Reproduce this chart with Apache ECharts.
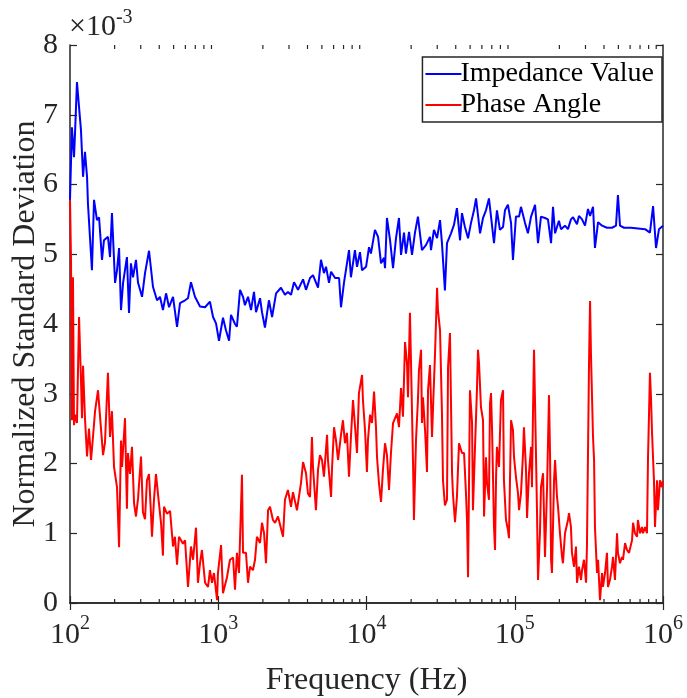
<!DOCTYPE html>
<html>
<head>
<meta charset="utf-8">
<script src="https://cdn.jsdelivr.net/npm/echarts@6/dist/echarts.min.js"></script>
<style>html,body{margin:0;padding:0;background:#fff}#c{width:687px;height:698px}</style>
</head>
<body>
<div id="c"></div>
<script>
// log10 of frequency (Hz) and normalized std (x1e-3) for Impedance Value
const impLogF = [2.000,2.013,2.027,2.034,2.047,2.061,2.074,2.088,2.101,2.115,2.121,2.148,2.162,2.182,2.196,2.216,2.229,2.256,2.270,2.283,2.304,2.317,2.331,2.344,2.358,2.384,2.398,2.411,2.425,2.445,2.459,2.486,2.506,2.533,2.560,2.587,2.607,2.627,2.648,2.668,2.695,2.722,2.742,2.776,2.796,2.816,2.843,2.877,2.911,2.944,2.965,2.985,3.005,3.032,3.052,3.073,3.086,3.113,3.126,3.147,3.167,3.180,3.201,3.221,3.241,3.255,3.282,3.295,3.315,3.342,3.363,3.390,3.423,3.450,3.470,3.491,3.511,3.538,3.572,3.592,3.619,3.639,3.673,3.693,3.713,3.727,3.747,3.761,3.788,3.815,3.828,3.848,3.882,3.895,3.922,3.936,3.956,3.970,3.997,4.017,4.030,4.057,4.078,4.098,4.118,4.125,4.138,4.159,4.179,4.199,4.219,4.233,4.253,4.266,4.287,4.307,4.327,4.347,4.374,4.401,4.428,4.435,4.455,4.476,4.496,4.509,4.529,4.543,4.570,4.590,4.610,4.631,4.644,4.664,4.685,4.705,4.725,4.739,4.766,4.786,4.806,4.826,4.840,4.860,4.880,4.900,4.921,4.934,4.954,4.975,4.988,5.008,5.029,5.042,5.069,5.089,5.110,5.137,5.157,5.177,5.204,5.224,5.245,5.258,5.272,5.298,5.312,5.339,5.359,5.379,5.393,5.420,5.433,5.454,5.474,5.494,5.508,5.528,5.541,5.562,5.589,5.622,5.656,5.683,5.696,5.710,5.737,5.784,5.831,5.879,5.912,5.933,5.953,5.973,6.000];
const impVal = [5.78,6.82,6.39,6.74,7.47,7.11,6.78,6.11,6.47,6.11,5.73,4.77,5.78,5.49,5.53,4.92,5.2,5.25,4.96,5.59,4.59,4.77,5.09,4.2,4.59,4.96,4.16,4.87,4.67,4.92,4.59,4.39,4.73,5.05,4.53,4.34,4.39,4.2,4.44,4.24,4.39,3.96,4.3,4.34,4.37,4.6,4.39,4.25,4.24,4.32,4.1,4.01,3.76,4.09,3.91,3.76,4.13,4.0,3.96,4.49,4.39,4.27,4.39,4.2,4.46,4.17,4.37,4.17,3.95,4.34,4.1,4.44,4.52,4.42,4.46,4.42,4.6,4.49,4.64,4.49,4.66,4.7,4.52,4.92,4.73,4.82,4.59,4.75,4.66,4.66,4.24,4.59,5.06,4.67,5.06,4.82,5.03,4.77,4.82,5.1,5.01,5.35,5.25,4.87,4.95,4.8,5.52,5.2,4.8,5.23,5.52,4.99,5.31,5.01,5.32,4.99,5.31,5.54,5.06,5.13,5.25,5.06,5.35,5.23,5.49,5.16,4.48,5.16,5.3,5.42,5.66,5.2,5.59,5.39,5.23,5.45,5.63,5.8,5.3,5.52,5.63,5.8,5.54,5.16,5.63,5.35,5.39,5.63,5.71,5.45,4.92,5.54,5.54,5.68,5.45,5.3,5.54,5.71,5.16,5.54,5.52,5.5,5.16,5.68,5.3,5.48,5.36,5.41,5.36,5.5,5.53,5.43,5.55,5.5,5.41,5.65,5.55,5.68,5.09,5.46,5.41,5.38,5.38,5.41,5.85,5.41,5.38,5.38,5.37,5.36,5.31,5.69,5.09,5.36,5.41];

// log10 of frequency (Hz) and normalized std (x1e-3) for Phase Angle
const phaseLogF = [2.000,2.007,2.013,2.020,2.027,2.034,2.047,2.061,2.074,2.081,2.088,2.101,2.115,2.128,2.142,2.155,2.169,2.189,2.209,2.223,2.236,2.256,2.270,2.283,2.297,2.317,2.331,2.344,2.351,2.371,2.384,2.391,2.405,2.418,2.432,2.445,2.459,2.479,2.492,2.506,2.519,2.533,2.546,2.553,2.567,2.580,2.594,2.614,2.627,2.634,2.654,2.675,2.695,2.708,2.722,2.735,2.749,2.762,2.776,2.796,2.816,2.830,2.850,2.863,2.877,2.890,2.911,2.931,2.944,2.958,2.971,2.992,2.998,3.019,3.032,3.059,3.079,3.100,3.113,3.126,3.140,3.160,3.167,3.187,3.201,3.214,3.234,3.248,3.261,3.282,3.295,3.309,3.322,3.336,3.349,3.369,3.383,3.403,3.437,3.450,3.470,3.491,3.504,3.531,3.558,3.572,3.592,3.605,3.619,3.632,3.639,3.659,3.673,3.686,3.700,3.713,3.734,3.740,3.761,3.767,3.781,3.794,3.808,3.828,3.841,3.855,3.868,3.882,3.895,3.909,3.922,3.936,3.949,3.970,3.976,3.990,4.003,4.010,4.024,4.037,4.051,4.064,4.071,4.084,4.098,4.111,4.125,4.138,4.152,4.165,4.179,4.206,4.219,4.233,4.246,4.260,4.273,4.280,4.293,4.300,4.314,4.320,4.334,4.347,4.354,4.368,4.374,4.381,4.395,4.408,4.415,4.428,4.442,4.449,4.462,4.476,4.482,4.496,4.509,4.516,4.529,4.543,4.550,4.563,4.577,4.583,4.597,4.610,4.624,4.644,4.658,4.671,4.678,4.685,4.698,4.712,4.718,4.732,4.745,4.752,4.759,4.772,4.786,4.793,4.806,4.813,4.826,4.833,4.840,4.847,4.860,4.867,4.874,4.880,4.894,4.907,4.921,4.927,4.941,4.954,4.961,4.975,4.988,4.995,5.008,5.022,5.029,5.042,5.056,5.062,5.076,5.083,5.096,5.110,5.116,5.123,5.130,5.137,5.150,5.157,5.170,5.177,5.191,5.197,5.204,5.218,5.231,5.238,5.245,5.251,5.265,5.272,5.285,5.292,5.305,5.319,5.325,5.339,5.352,5.359,5.366,5.379,5.386,5.400,5.413,5.420,5.433,5.447,5.454,5.467,5.481,5.487,5.501,5.508,5.514,5.528,5.535,5.541,5.555,5.562,5.575,5.589,5.595,5.609,5.622,5.629,5.642,5.656,5.663,5.676,5.690,5.696,5.710,5.723,5.730,5.744,5.757,5.771,5.791,5.798,5.811,5.825,5.831,5.845,5.858,5.865,5.879,5.892,5.899,5.912,5.919,5.926,5.939,5.946,5.960,5.966,5.980,5.993,6.000];
const phaseVal = [5.8,4.9,2.62,4.67,2.55,2.7,2.58,4.1,3.2,2.65,3.4,2.65,2.1,2.5,2.05,2.38,2.75,3.05,2.5,2.12,2.3,3.3,2.38,2.75,1.95,1.66,0.8,2.33,1.95,2.65,1.35,2.15,1.85,2.24,1.43,1.24,1.5,2.1,1.3,1.2,1.76,1.85,1.29,0.95,1.5,1.85,1.55,1.15,0.68,1.38,1.28,1.32,0.81,0.95,0.55,0.95,0.9,0.85,0.9,0.23,0.81,0.62,1.08,0.29,0.57,0.76,0.29,0.23,0.47,0.29,0.43,0.04,0.43,0.83,0.14,0.37,0.62,0.65,0.19,0.72,0.43,1.84,0.72,0.72,0.29,0.52,0.47,0.62,0.95,0.86,1.15,1.0,0.57,1.33,1.38,1.19,1.15,1.24,0.95,1.48,1.62,1.38,1.59,1.33,1.72,2.02,1.86,1.57,1.52,2.38,1.95,1.33,1.91,2.12,2.05,1.81,2.41,2.05,1.52,1.91,2.52,2.34,2.05,2.41,2.62,2.29,2.44,1.81,2.38,2.91,2.91,2.15,3.01,3.27,2.91,2.48,1.88,2.34,2.7,2.58,3.03,2.52,2.09,1.72,1.45,1.91,2.29,2.12,1.62,2.15,2.58,2.72,2.52,3.08,2.67,3.74,3.44,2.95,4.16,3.48,2.0,1.19,2.34,2.91,3.34,3.63,2.58,2.95,2.48,1.88,3.05,3.41,2.38,2.81,3.56,4.52,4.2,3.91,2.72,1.76,1.4,1.48,3.38,3.87,1.86,1.57,1.16,1.52,2.29,2.15,2.15,1.57,1.19,0.37,3.05,2.58,1.33,2.24,3.05,3.63,3.44,2.81,2.62,1.24,2.09,1.72,1.48,2.86,3.01,2.48,1.09,0.76,1.81,2.24,1.95,2.91,3.05,1.76,1.19,1.05,0.93,2.62,2.48,2.09,1.81,1.57,1.33,1.57,2.15,2.52,1.91,1.22,1.86,2.24,1.66,2.72,3.63,2.86,1.33,0.33,1.0,1.66,1.86,1.29,0.66,1.66,2.98,2.15,0.62,0.43,1.76,2.05,1.52,1.38,1.0,0.66,0.57,1.0,1.0,1.19,1.29,1.09,0.72,0.52,0.81,0.29,0.52,0.33,0.47,0.62,0.29,0.81,3.44,4.33,3.58,2.38,2.05,1.09,0.43,0.62,0.04,0.43,0.23,0.43,0.72,0.23,0.33,0.52,0.66,0.33,1.0,0.72,0.57,0.66,0.62,0.86,0.76,0.72,0.9,1.15,1.0,0.95,1.19,1.0,1.09,1.0,1.09,1.0,2.09,3.3,2.95,2.44,1.76,1.09,1.76,1.33,1.76,1.66,1.75];

// axis ticks
const xDecadeTicks = [100, 1000, 10000, 100000, 1000000];
const yTicks = [0, 1, 2, 3, 4, 5, 6, 7, 8];
const minorMultipliers = [2, 3, 4, 5, 6, 7, 8, 9];

const FONT = '"Liberation Serif", "Times New Roman", serif';
const AX = '#262626';

const minorTicks = [];
for (let d = 0; d < xDecadeTicks.length - 1; d++) {
  for (const m of minorMultipliers) minorTicks.push([xDecadeTicks[d] * m, 0]);
}

const impData = impLogF.map((e, i) => [Math.pow(10, e), impVal[i]]);
const phaseData = phaseLogF.map((e, i) => [Math.pow(10, e), phaseVal[i]]);

const chart = echarts.init(document.getElementById('c'), null, {renderer: 'canvas'});

const axisCommon = {
  axisLine: {show: true, lineStyle: {color: AX, width: 1.5}},
  splitLine: {show: false},
};

const option = {
  animation: false,
  backgroundColor: '#fff',
  title: {
    text: '{a|\u00d710}{s|-3}',
    left: 69, top: 8, padding: 0,
    textStyle: {
      fontFamily: FONT, fontSize: 30, fontWeight: 'normal', color: AX,
      rich: {
        a: {fontFamily: FONT, fontSize: 30, fontWeight: 'normal', color: AX, verticalAlign: 'bottom', lineHeight: 34},
        s: {fontFamily: FONT, fontSize: 20, fontWeight: 'normal', color: AX, verticalAlign: 'top', lineHeight: 34, padding: [0, 0, 14, 0]}
      }
    }
  },
  grid: {left: 70, right: 24, top: 45, bottom: 95, containLabel: false, outerBoundsMode: 'none'},
  legend: {
    data: ['Impedance Value', 'Phase Angle'],
    orient: 'vertical',
    right: 25,
    top: 57,
    itemWidth: 36,
    itemHeight: 14,
    itemGap: 3,
    padding: [3, 8, 3, 3],
    borderColor: AX,
    borderWidth: 1.5,
    borderRadius: 0,
    backgroundColor: '#fff',
    icon: 'path://M0,7 L36,7 L36,8.8 L0,8.8 Z',
    textStyle: {fontFamily: FONT, fontSize: 28, color: '#000', padding: [0, 0, 0, -6]},
  },
  xAxis: [
    Object.assign({}, axisCommon, {
      type: 'log', logBase: 10, min: 100, max: 1000000, position: 'bottom',
      axisTick: {show: true, inside: true, length: 7, lineStyle: {color: AX, width: 1.2}},
      axisLabel: {
        show: true, margin: 11, color: AX,
        formatter: v => '{b|10}{s|' + Math.round(Math.log10(v)) + '}',
        rich: {
          b: {fontFamily: FONT, fontSize: 30, color: AX, verticalAlign: 'bottom', lineHeight: 36},
          s: {fontFamily: FONT, fontSize: 20, color: AX, verticalAlign: 'top', lineHeight: 36, padding: [0, 0, 14, 0]}
        }
      },
      name: 'Frequency (Hz)', nameLocation: 'middle', nameGap: 62,
      nameTextStyle: {fontFamily: FONT, fontSize: 32, color: AX}
    }),
    Object.assign({}, axisCommon, {
      type: 'log', logBase: 10, min: 100, max: 1000000, position: 'top',
      axisTick: {show: true, inside: true, length: 7, lineStyle: {color: AX, width: 1.2}},
      axisLabel: {show: false}
    })
  ],
  yAxis: [
    Object.assign({}, axisCommon, {
      type: 'value', min: 0, max: 8, interval: 1, position: 'left',
      axisTick: {show: true, inside: true, length: 7, lineStyle: {color: AX, width: 1.2}},
      axisLabel: {show: true, margin: 12, fontFamily: FONT, fontSize: 30, color: AX,
        formatter: v => yTicks.indexOf(v) >= 0 ? String(v) : ''},
      name: 'Normalized Standard Deviation', nameLocation: 'middle', nameGap: 28, nameMoveOverlap: false,
      nameTextStyle: {fontFamily: FONT, fontSize: 32, color: AX}
    }),
    Object.assign({}, axisCommon, {
      type: 'value', min: 0, max: 8, interval: 1, position: 'right',
      axisTick: {show: true, inside: true, length: 7, lineStyle: {color: AX, width: 1.2}},
      axisLabel: {show: false}
    })
  ],
  series: [
    {
      name: 'Impedance Value', type: 'line', data: impData, xAxisIndex: 0, yAxisIndex: 0,
      showSymbol: false, symbol: 'none', lineStyle: {color: '#0000ff', width: 2}, itemStyle: {color: '#0000ff'}, z: 3
    },
    {
      name: 'Phase Angle', type: 'line', data: phaseData, xAxisIndex: 0, yAxisIndex: 0,
      showSymbol: false, symbol: 'none', lineStyle: {color: '#ff0000', width: 2}, itemStyle: {color: '#ff0000'}, z: 2
    },
    {
      name: 'minorTicks', type: 'custom', xAxisIndex: 0, yAxisIndex: 0, data: minorTicks, silent: true, z: 5,
      renderItem: function (params, api) {
        const b = api.coord([api.value(0), 0]);
        const t = api.coord([api.value(0), 8]);
        const st = {stroke: AX, lineWidth: 1.2};
        return {type: 'group', children: [
          {type: 'line', shape: {x1: b[0], y1: b[1], x2: b[0], y2: b[1] - 4}, style: st},
          {type: 'line', shape: {x1: t[0], y1: t[1], x2: t[0], y2: t[1] + 4}, style: st}
        ]};
      }
    }
  ]
};
chart.setOption(option);
</script>
</body>
</html>
